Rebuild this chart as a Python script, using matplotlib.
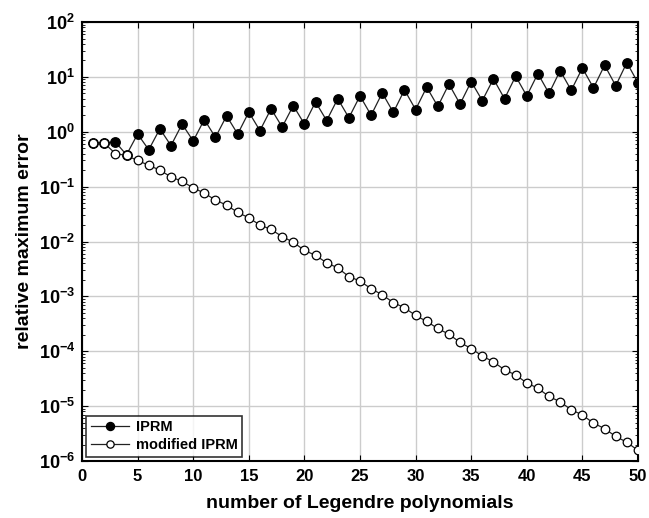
import numpy as np
import matplotlib
matplotlib.use('Agg')
from matplotlib import pyplot as plt
from matplotlib.ticker import FixedLocator, LogLocator, NullFormatter

plt.rcParams['font.family'] = ['Liberation Sans', 'DejaVu Sans']
plt.rcParams['font.weight'] = 'bold'
plt.rcParams['mathtext.fontset'] = 'custom'
plt.rcParams['mathtext.rm'] = 'Liberation Sans:bold'
plt.rcParams['mathtext.bf'] = 'Liberation Sans:bold'
plt.rcParams['mathtext.default'] = 'bf'

# data
n_poly = np.arange(1, 51)
iprm = [0.63, 0.63, 0.65, 0.38, 0.91, 0.47, 1.13, 0.56, 1.38, 0.68,
        1.67, 0.79, 1.95, 0.91, 2.28, 1.05, 2.62, 1.22, 3.0, 1.38,
        3.5, 1.6, 4.0, 1.8, 4.5, 2.0, 5.1, 2.25, 5.8, 2.54,
        6.5, 2.9, 7.4, 3.2, 8.2, 3.7, 9.2, 4.0, 10.3, 4.5,
        11.5, 5.0, 13.0, 5.7, 14.5, 6.3, 16.3, 6.9, 18.2, 7.8]
mod_iprm = [0.62, 0.62, 0.40, 0.37, 0.30, 0.245, 0.20, 0.15, 0.125, 0.095,
            0.076, 0.057, 0.046, 0.034, 0.027, 0.020, 0.0166, 0.0123, 0.0097, 0.0069,
            0.0056, 0.0041, 0.0033, 0.0023, 0.0019, 0.00138, 0.00107, 0.00077, 0.00062, 0.00045,
            3.5e-4, 2.6e-4, 2.04e-4, 1.45e-4, 1.12e-4, 8.2e-5, 6.4e-5, 4.6e-5, 3.7e-5, 2.65e-5,
            2.12e-5, 1.5e-5, 1.2e-5, 8.6e-6, 6.9e-6, 4.9e-6, 3.9e-6, 2.8e-6, 2.2e-6, 1.56e-6]

x_ticks = [0, 5, 10, 15, 20, 25, 30, 35, 40, 45, 50]
y_ticks = [1e-6, 1e-5, 1e-4, 1e-3, 1e-2, 1e-1, 1e0, 1e1, 1e2]
y_labels = [r'$10^{-6}$', r'$10^{-5}$', r'$10^{-4}$', r'$10^{-3}$', r'$10^{-2}$',
            r'$10^{-1}$', r'$10^{0}$', r'$10^{1}$', r'$10^{2}$']

fig = plt.figure(figsize=(6.49, 5.18), dpi=100)
ax = fig.add_axes([0.1264, 0.110, 0.8566, 0.8475])

ax.plot(n_poly, iprm, '-o', color='#222222', lw=0.9, ms=6.8,
        mfc='black', mec='black', label='IPRM', zorder=3)
ax.plot(n_poly, mod_iprm, '-o', color='#222222', lw=0.9, ms=6.2,
        mfc='white', mec='black', mew=0.9, label='modified IPRM', zorder=4)

ax.set_yscale('log')
ax.set_xlim(0, 50)
ax.set_ylim(1e-6, 1e2)
ax.set_xticks(x_ticks)
ax.set_xticklabels([str(v) for v in x_ticks])
ax.yaxis.set_major_locator(FixedLocator(y_ticks))
ax.set_yticklabels(y_labels)
ax.yaxis.set_minor_locator(LogLocator(base=10, subs=np.arange(2, 10), numticks=20))
ax.yaxis.set_minor_formatter(NullFormatter())

ax.grid(True, which='major', color='#cccccc', lw=1.0)
ax.set_axisbelow(True)
ax.tick_params(which='both', direction='in', top=True, right=True)
ax.tick_params(which='major', length=4, width=0.8, pad=6)
ax.tick_params(axis='x', which='major', labelsize=12)
ax.tick_params(axis='y', which='major', labelsize=13, pad=5)
ax.tick_params(which='minor', length=2.5, width=0.6)
for sp in ax.spines.values():
    sp.set_linewidth(1.5)

ax.set_xlabel('number of Legendre polynomials', fontsize=14, fontweight='bold', labelpad=8)
ax.set_ylabel('relative maximum error', fontsize=14, fontweight='bold', labelpad=4)

leg = ax.legend(loc='lower left', fontsize=10.5, frameon=True, fancybox=False,
                edgecolor='black', borderaxespad=0.3, handlelength=2.6,
                handletextpad=0.5, borderpad=0.3, labelspacing=0.3, markerscale=0.85)
leg.get_frame().set_linewidth(1.2)

fig.savefig('out.png', dpi=100)
